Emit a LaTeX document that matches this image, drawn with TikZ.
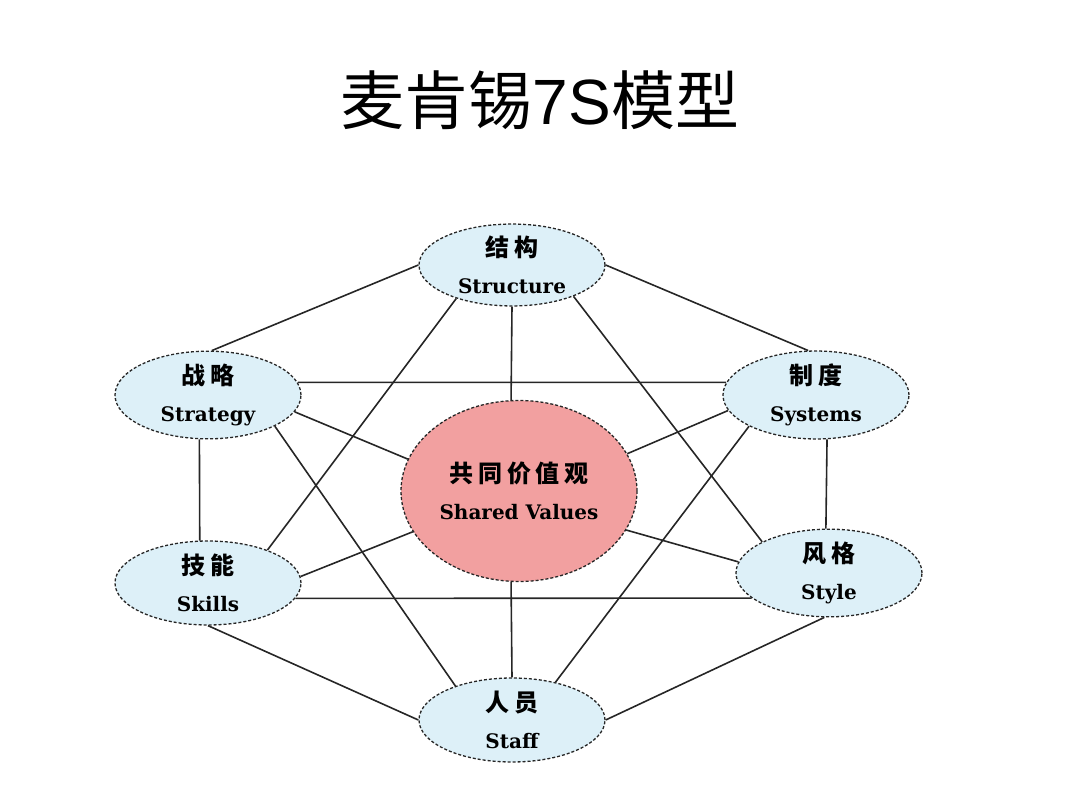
\documentclass[tikz,border=0pt]{standalone}
\usepackage{fontspec}
\setmainfont{DejaVu Serif}
\newfontfamily\cjk{Noto Sans CJK SC}
\newfontfamily\arial{Liberation Sans}
\usetikzlibrary{shapes.geometric}
\definecolor{bubbleBlue}{RGB}{221,240,248}
\definecolor{corePink}{RGB}{242,160,160}

\begin{document}
\begin{tikzpicture}[x=1pt,y=-1pt,
	bubble/.style={ellipse,draw=black!85,densely dashed,line width=1.3pt,fill=bubbleBlue,
		minimum width=186pt,minimum height=84pt,inner sep=0pt,align=center,
		font=\bfseries\fontsize{20}{37}\selectfont},
	core/.style={bubble,fill=corePink,minimum width=236pt,minimum height=181pt},
	link/.style={line width=1.6pt,draw=black!85}]
		\newcommand{\myfontcn}[1]{%
			{\cjk\bfseries\fontsize{24}{37}\selectfont\addfontfeature{LetterSpace=20}#1}%
		}\newcommand{\myfonten}[1]{%
			{\bfseries\fontsize{20}{37}\selectfont #1}%
		}%Page
		\useasboundingbox (0,0) rectangle (1080,810);
		%Title
		\node [anchor=base,inner sep=0pt] (title) at (540,125) {\fontsize{64}{64}\selectfont{\cjk 麦肯锡}{\arial 7S}{\cjk 模型}};
		%Centres of the seven elements
		\coordinate (cStructure) at (512,265);
		\coordinate (cStrategy) at (208,395);
		\coordinate (cSystems) at (816,395);
		\coordinate (cShared) at (519,491);
		\coordinate (cSkills) at (208,583);
		\coordinate (cStyle) at (829,573);
		\coordinate (cStaff) at (512,720);
		%The seven elements
		\node [bubble,minimum height=75pt] (sStructure) at (cStructure) {\myfontcn{结构}\\\myfonten{Structure}};
		\node [bubble] (sStrategy) at (cStrategy) {\myfontcn{战略}\\\myfonten{Strategy}};
		\node [bubble] (sSystems) at (cSystems) {\myfontcn{制度}\\\myfonten{Systems}};
		\node [core] (sShared) at (cShared) {\myfontcn{共同价值观}\\\myfonten{Shared Values}};
		\node [bubble] (sSkills) at (cSkills) {\myfontcn{技能}\\\myfonten{Skills}};
		\node [bubble] (sStyle) at (cStyle) {\myfontcn{风格}\\\myfonten{Style}};
		\node [bubble] (sStaff) at (cStaff) {\myfontcn{人员}\\\myfonten{Staff}};
		%Links from Structure
		\draw [link] (sStructure.west) -- (sStrategy.85);
		\draw [link] (sStructure.east) -- (sSystems.100);
		\draw [link] (sStructure.south) -- (sShared.95);
		\draw [link] (sStructure.211) -- (sSkills.29);
		\draw [link] (sStructure.333) -- (sStyle.155);
		%Links from Strategy
		\draw [link] (sStrategy.8) -- (sSystems.172);
		\draw [link] (sStrategy.259) -- (sSkills.101);
		\draw [link] (sStrategy.349) -- (sShared.164);
		\draw [link] (sStrategy.335) -- (sStaff.149);
		%Links from Systems
		\draw [link] (sSystems.190) -- (sShared.19);
		\draw [link] (sSystems.205) -- (sStaff.41);
		\draw [link] (sSystems.284) -- (sStyle.94);
		%Links from Skills
		\draw [link] (sSkills.350) -- (sStyle.198);
		\draw [link] (sSkills.4) -- (sShared.201);
		\draw [link] (sSkills.south) -- (sStaff.west);
		%Links from Style and Staff
		\draw [link] (sStyle.173) -- (sShared.340);
		\draw [link] (sStyle.264) -- (sStaff.east);
		\draw [link] (sShared.265) -- (sStaff.north);
\end{tikzpicture}
\end{document}
